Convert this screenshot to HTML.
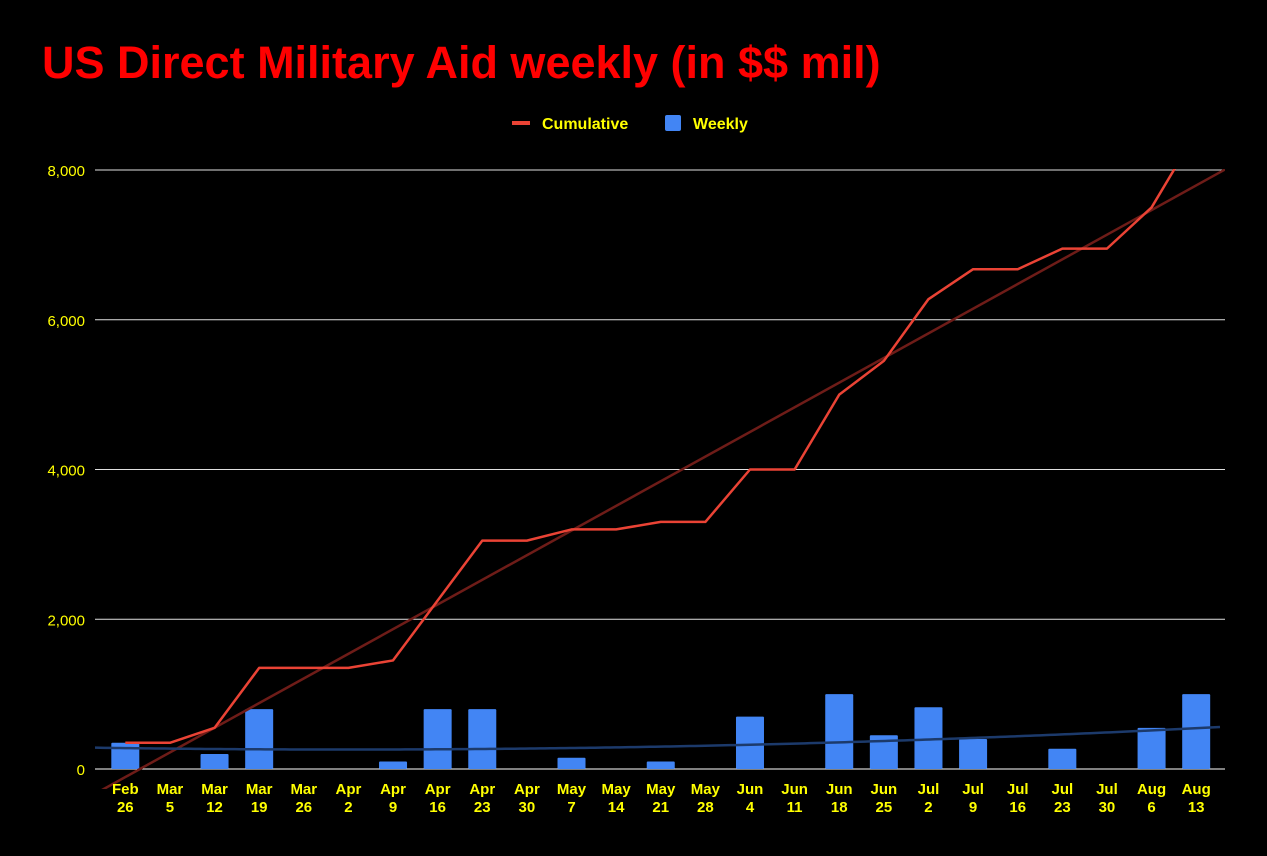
<!DOCTYPE html>
<html><head><meta charset="utf-8"><style>
body{margin:0;background:#000;}
svg{display:block;font-family:"Liberation Sans",Arial,sans-serif;}
</style></head><body>
<svg id="chart" width="1267" height="856" viewBox="0 0 1267 856" xmlns="http://www.w3.org/2000/svg">
<defs><clipPath id="plotclip"><rect x="95" y="169" width="1130" height="620"/></clipPath></defs>
<rect width="1267" height="856" fill="#000"/>
<text x="42" y="78" fill="#ff0000" font-size="45" font-weight="bold">US Direct Military Aid weekly (in $$ mil)</text>
<g>
<rect x="512" y="121" width="18" height="4" fill="#ea4335"/>
<text x="542" y="129" fill="#ffff00" font-size="16" font-weight="bold">Cumulative</text>
<rect x="665" y="115" width="16" height="16" rx="2" fill="#4285f4"/>
<text x="693" y="129" fill="#ffff00" font-size="16" font-weight="bold">Weekly</text>
</g>
<g id="grid"></g><g id="bars"></g><g id="lines" clip-path="url(#plotclip)"></g><g id="xl"></g>
</svg>
<script>
const cats1=["Feb","Mar","Mar","Mar","Mar","Apr","Apr","Apr","Apr","Apr","May","May","May","May","Jun","Jun","Jun","Jun","Jul","Jul","Jul","Jul","Jul","Aug","Aug"];
const cats2=["26","5","12","19","26","2","9","16","23","30","7","14","21","28","4","11","18","25","2","9","16","23","30","6","13"];
const weekly=[350,0,200,800,0,0,100,800,800,0,150,0,100,0,700,0,1000,450,825,400,0,270,0,550,1000];
const cumulative=[350,350,550,1350,1350,1350,1450,2250,3050,3050,3200,3200,3300,3300,4000,4000,5000,5450,6275,6675,6675,6950,6950,7500,8500];
const yTicks=[0,2000,4000,6000,8000];
const NS="http://www.w3.org/2000/svg";
const L=103,band=44.62,gL=95,gR=1225;
const x=i=>L+band*(i+0.5);
const y=v=>769-v*(599/8000);
function mk(t,a,p){const e=document.createElementNS(NS,t);for(const k in a)e.setAttribute(k,a[k]);p.appendChild(e);return e;}
const grid=document.getElementById('grid');
yTicks.forEach(v=>{
 const ln=mk('line',{x1:gL,x2:gR,y1:y(v),y2:y(v),stroke:v===0?'#ffffff':'#e0e0e0','stroke-width':1},grid);
 
 
 const t=mk('text',{x:85,y:y(v)+6,fill:'#ffff00','font-size':15,'text-anchor':'end'},grid);
 t.textContent=v.toLocaleString('en-US');
 
 
});
const bars=document.getElementById('bars');
weekly.forEach((v,i)=>{
 if(v<=0)return;
 const r=mk('rect',{x:x(i)-14,y:y(v),width:28,height:769-y(v),fill:'#4285f4',rx:1},bars);
 
 
});
const lines=document.getElementById('lines');
const n=cumulative.length;let sx=0,sy=0,sxx=0,sxy=0;
cumulative.forEach((v,i)=>{sx+=i;sy+=v;sxx+=i*i;sxy+=i*v;});
const b=(n*sxy-sx*sy)/(n*sxx-sx*sx),a=(sy-b*sx)/n;
const iAt=px=>(px-L)/band-0.5;
const i0=iAt(gL),i1=iAt(gR);
const ct=mk('line',{x1:gL,y1:y(a+b*i0),x2:gR,y2:y(a+b*i1),stroke:'#6e1c18','stroke-width':2.5},lines);


function quad(arr){let S=[0,0,0,0,0],T=[0,0,0];arr.forEach((v,i)=>{let p=1;for(let k=0;k<5;k++){S[k]+=p;if(k<3)T[k]+=p*v;p*=i;}});
 const M=[[S[0],S[1],S[2],T[0]],[S[1],S[2],S[3],T[1]],[S[2],S[3],S[4],T[2]]];
 for(let c=0;c<3;c++){for(let r=c+1;r<3;r++){const f=M[r][c]/M[c][c];for(let k=c;k<4;k++)M[r][k]-=f*M[c][k];}}
 const s=[0,0,0];for(let r=2;r>=0;r--){let t=M[r][3];for(let k=r+1;k<3;k++)t-=M[r][k]*s[k];s[r]=t/M[r][r];}return s;}
const q=quad(weekly);let d='';
for(let px=gL;px<=gR-3;px+=5){const ii=iAt(px);const v=q[0]+q[1]*ii+q[2]*ii*ii;d+=(d?'L':'M')+px+' '+y(v);}
const wt=mk('path',{d:d,fill:'none',stroke:'#1c3a6b','stroke-width':2.5},lines);


const cl=mk('polyline',{points:cumulative.map((v,i)=>x(i)+','+y(v)).join(' '),fill:'none',stroke:'#ea4335','stroke-width':2.5,'stroke-linejoin':'round'},lines);


const xl=document.getElementById('xl');
cats1.forEach((c,i)=>{
 const t=mk('text',{x:x(i),y:794,fill:'#ffff00','font-size':15,'font-weight':'bold','text-anchor':'middle'},xl);
 t.textContent=c;
 
 
 const t2=mk('text',{x:x(i),y:812,fill:'#ffff00','font-size':15,'font-weight':'bold','text-anchor':'middle'},xl);
 t2.textContent=cats2[i];
 
 
});
</script>
</body></html>
